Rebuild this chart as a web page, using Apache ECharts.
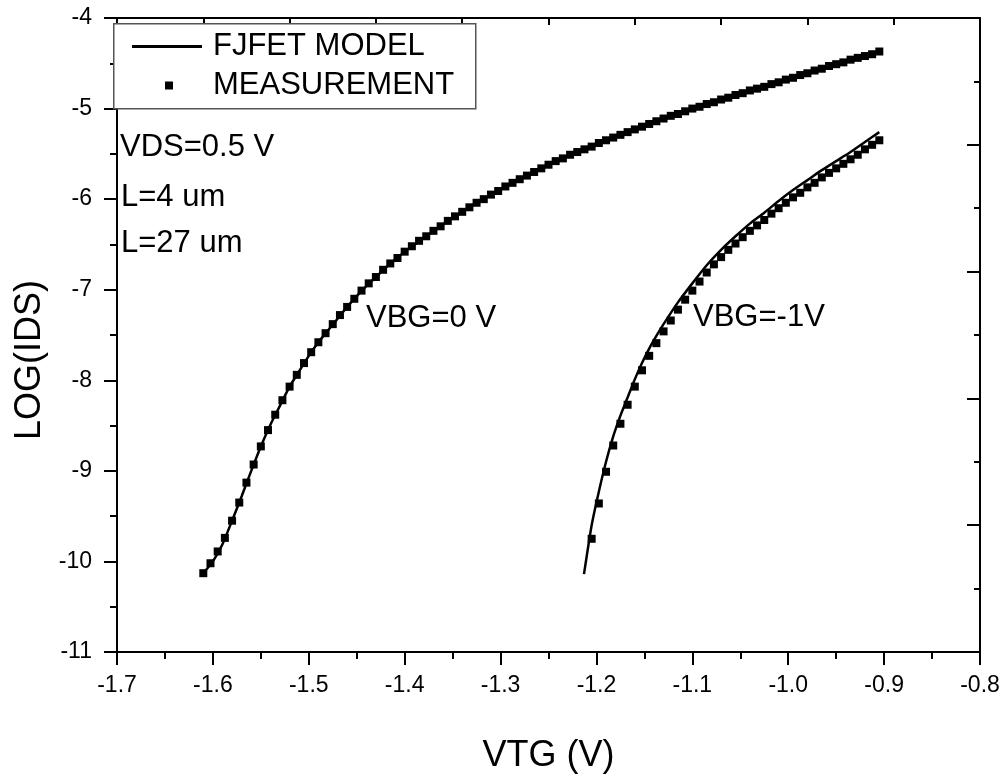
<!DOCTYPE html>
<html>
<head>
<meta charset="utf-8">
<script src="https://cdn.jsdelivr.net/npm/echarts@6/dist/echarts.min.js"></script>
<style>
html,body{margin:0;padding:0;background:#fff;}
#chart{width:1008px;height:779px;}
</style>
</head>
<body>
<div id="chart"></div>
<script>
// ---- data ----
const xTicks = [-1.7, -1.6, -1.5, -1.4, -1.3, -1.2, -1.1, -1.0, -0.9, -0.8];
const yTicks = [-11, -10, -9, -8, -7, -6, -5, -4];

// VBG = 0 V, measurement (VTG, log IDS)
const measVTG0 = [-1.6100,-1.6025,-1.5950,-1.5875,-1.5800,-1.5725,-1.5650,-1.5575,-1.5500,-1.5425,
  -1.5350,-1.5275,-1.5200,-1.5125,-1.5050,-1.4975,-1.4900,-1.4825,-1.4750,-1.4675,
  -1.4600,-1.4525,-1.4450,-1.4375,-1.4300,-1.4225,-1.4150,-1.4075,-1.4000,-1.3925,
  -1.3850,-1.3775,-1.3700,-1.3625,-1.3550,-1.3475,-1.3400,-1.3325,-1.3250,-1.3175,
  -1.3100,-1.3025,-1.2950,-1.2875,-1.2800,-1.2725,-1.2650,-1.2575,-1.2500,-1.2425,
  -1.2350,-1.2275,-1.2200,-1.2125,-1.2050,-1.1975,-1.1900,-1.1825,-1.1750,-1.1675,
  -1.1600,-1.1525,-1.1450,-1.1375,-1.1300,-1.1225,-1.1150,-1.1075,-1.1000,-1.0925,
  -1.0850,-1.0775,-1.0700,-1.0625,-1.0550,-1.0475,-1.0400,-1.0325,-1.0250,-1.0175,
  -1.0100,-1.0025,-0.9950,-0.9875,-0.9800,-0.9725,-0.9650,-0.9575,-0.9500,-0.9425,
  -0.9350,-0.9275,-0.9200,-0.9125,-0.9050];
const measLog0 = [-10.13,-10.02,-9.89,-9.74,-9.55,-9.35,-9.13,-8.93,-8.73,-8.55,
  -8.38,-8.22,-8.07,-7.94,-7.81,-7.69,-7.58,-7.48,-7.38,-7.28,
  -7.19,-7.10,-7.01,-6.93,-6.86,-6.78,-6.71,-6.65,-6.58,-6.52,
  -6.46,-6.41,-6.35,-6.30,-6.24,-6.19,-6.14,-6.09,-6.04,-6.00,
  -5.95,-5.91,-5.86,-5.82,-5.78,-5.74,-5.70,-5.66,-5.62,-5.58,
  -5.55,-5.51,-5.48,-5.45,-5.42,-5.38,-5.35,-5.32,-5.29,-5.26,
  -5.23,-5.20,-5.17,-5.14,-5.11,-5.08,-5.06,-5.03,-5.00,-4.98,
  -4.95,-4.93,-4.90,-4.88,-4.85,-4.83,-4.80,-4.78,-4.76,-4.73,
  -4.71,-4.68,-4.66,-4.63,-4.61,-4.58,-4.56,-4.53,-4.51,-4.49,
  -4.46,-4.44,-4.42,-4.40,-4.37];

// VBG = 0 V, FJFET model
const modelVTG0 = [-1.610,-1.600,-1.590,-1.580,-1.570,-1.560,-1.550,-1.540,-1.530,-1.520,
  -1.510,-1.500,-1.490,-1.480,-1.470,-1.460,-1.450,-1.440,-1.430,-1.420,
  -1.410,-1.400,-1.380,-1.360,-1.340,-1.320,-1.300,-1.280,-1.260,-1.240,
  -1.220,-1.200,-1.180,-1.160,-1.140,-1.120,-1.100,-1.080,-1.060,-1.040,
  -1.020,-1.000,-0.980,-0.960,-0.940,-0.920,-0.905];
const modelLog0 = [-10.13,-10.00,-9.81,-9.55,-9.28,-9.00,-8.73,-8.49,-8.28,-8.07,
  -7.90,-7.73,-7.58,-7.45,-7.32,-7.19,-7.07,-6.96,-6.86,-6.76,
  -6.67,-6.58,-6.43,-6.28,-6.14,-6.01,-5.89,-5.78,-5.68,-5.57,
  -5.48,-5.40,-5.31,-5.23,-5.15,-5.08,-5.00,-4.94,-4.87,-4.80,
  -4.74,-4.67,-4.61,-4.55,-4.48,-4.42,-4.37];

// VBG = -1 V, measurement
const measVTG1 = [-1.2050,-1.1975,-1.1900,-1.1825,-1.1750,-1.1675,-1.1600,-1.1525,-1.1450,-1.1375,
  -1.1300,-1.1225,-1.1150,-1.1075,-1.1000,-1.0925,-1.0850,-1.0775,-1.0700,-1.0625,
  -1.0550,-1.0475,-1.0400,-1.0325,-1.0250,-1.0175,-1.0100,-1.0025,-0.9950,-0.9875,
  -0.9800,-0.9725,-0.9650,-0.9575,-0.9500,-0.9425,-0.9350,-0.9275,-0.9200,-0.9125,
  -0.9050];
const measLog1 = [-9.75,-9.36,-9.01,-8.72,-8.48,-8.27,-8.07,-7.89,-7.73,-7.59,
  -7.46,-7.34,-7.22,-7.11,-7.01,-6.91,-6.81,-6.72,-6.64,-6.56,
  -6.49,-6.42,-6.35,-6.29,-6.23,-6.16,-6.10,-6.04,-5.98,-5.93,
  -5.87,-5.82,-5.76,-5.71,-5.66,-5.61,-5.56,-5.51,-5.45,-5.40,
  -5.35];

// VBG = -1 V, FJFET model
const modelVTG1 = [-1.213,-1.205,-1.1975,-1.190,-1.1825,-1.175,-1.1675,-1.160,-1.1525,-1.145,
  -1.1375,-1.130,-1.115,-1.100,-1.085,-1.070,-1.055,-1.040,-1.025,-1.010,
  -0.995,-0.980,-0.965,-0.950,-0.935,-0.920,-0.905];
const modelLog1 = [-10.14,-9.60,-9.23,-8.90,-8.62,-8.39,-8.19,-7.99,-7.81,-7.65,
  -7.51,-7.38,-7.14,-6.93,-6.73,-6.56,-6.41,-6.27,-6.15,-6.02,
  -5.90,-5.79,-5.68,-5.58,-5.48,-5.37,-5.26];

const legendNames = ['FJFET MODEL', 'MEASUREMENT'];
const annotations = ['VDS=0.5 V', 'L=4 um', 'L=27 um', 'VBG=0 V', 'VBG=-1V'];

// ---- chart ----
const FONT = '"Liberation Sans", Arial, sans-serif';
const pairs = (xs, ys) => xs.map((x, i) => [x, ys[i]]);

const chart = echarts.init(document.getElementById('chart'), null, {renderer: 'canvas'});
const axisLine = {show: true, lineStyle: {color: '#000', width: 2}};

chart.setOption({
  animation: false,
  backgroundColor: '#fff',
  grid: {left: 117, right: 28, top: 18, bottom: 123, containLabel: false},
  xAxis: [{
    type: 'value', position: 'bottom', min: xTicks[0], max: xTicks[xTicks.length - 1], interval: 0.1,
    name: 'VTG (V)', nameLocation: 'middle', nameGap: 86,
    nameTextStyle: {fontFamily: FONT, fontSize: 36, color: '#000'},
    axisLine: axisLine,
    axisTick: {show: true, inside: false, length: 13, lineStyle: {color: '#000', width: 2}},
    minorTick: {show: true, splitNumber: 2, length: 7, lineStyle: {color: '#000', width: 2}},
    axisLabel: {fontFamily: FONT, fontSize: 23, color: '#000', margin: 22,
      formatter: v => v.toFixed(1)},
    splitLine: {show: false}
  }, {
    type: 'value', position: 'top', min: 0, max: 10, interval: 1,
    axisLine: axisLine,
    axisTick: {show: true, inside: true, length: 7, lineStyle: {color: '#000', width: 2}},
    axisLabel: {show: false},
    splitLine: {show: false}
  }],
  yAxis: [{
    type: 'value', position: 'left', min: yTicks[0], max: yTicks[yTicks.length - 1], interval: 1,
    name: 'LOG(IDS)', nameLocation: 'middle', nameGap: 58, nameRotate: 90,
    nameTextStyle: {fontFamily: FONT, fontSize: 36, color: '#000', padding: [0, 50, 0, 0]},
    axisLine: axisLine,
    axisTick: {show: true, inside: false, length: 13, lineStyle: {color: '#000', width: 2}},
    minorTick: {show: true, splitNumber: 2, length: 7, lineStyle: {color: '#000', width: 2}},
    axisLabel: {fontFamily: FONT, fontSize: 23, color: '#000', margin: 25},
    splitLine: {show: false}
  }, {
    type: 'value', position: 'right', min: 0, max: 5, interval: 1,
    axisLine: axisLine,
    axisTick: {show: true, inside: true, length: 13, lineStyle: {color: '#000', width: 2}},
    minorTick: {show: true, splitNumber: 2, length: 6, lineStyle: {color: '#000', width: 2}},
    axisLabel: {show: false},
    splitLine: {show: false}
  }],
  legend: [{
    data: [{name: legendNames[0], icon: 'rect'}],
    left: 132, top: 31, padding: 0, itemWidth: 70, itemHeight: 3,
    selectedMode: false, z: 10,
    textStyle: {fontFamily: FONT, fontSize: 31, color: '#000', lineHeight: 31, padding: [0, 0, 0, 6]}
  }, {
    data: [{name: legendNames[1], icon: 'rect'}],
    left: 165, top: 70, padding: 0, itemWidth: 8, itemHeight: 8,
    selectedMode: false, z: 10,
    textStyle: {fontFamily: FONT, fontSize: 31, color: '#000', lineHeight: 31, padding: [0, 0, 0, 35]}
  }],
  graphic: [
    {type: 'rect', left: 113, top: 23, z: 5,
      shape: {width: 362, height: 85},
      style: {fill: '#fff', stroke: '#555', lineWidth: 1.5}},
    {type: 'text', left: 120, top: 132, z: 6,
      style: {text: annotations[0], font: '31px ' + FONT, fill: '#000'}},
    {type: 'text', left: 121, top: 182, z: 6,
      style: {text: annotations[1], font: '31px ' + FONT, fill: '#000'}},
    {type: 'text', left: 121, top: 228, z: 6,
      style: {text: annotations[2], font: '31px ' + FONT, fill: '#000'}},
    {type: 'text', left: 366, top: 303, z: 6,
      style: {text: annotations[3], font: '31px ' + FONT, fill: '#000'}},
    {type: 'text', left: 693, top: 302, z: 6,
      style: {text: annotations[4], font: '31px ' + FONT, fill: '#000'}}
  ],
  series: [{
    name: legendNames[1], type: 'scatter', xAxisIndex: 0, yAxisIndex: 0,
    symbol: 'rect', symbolSize: 8, itemStyle: {color: '#000', opacity: 1},
    data: pairs(measVTG0, measLog0), z: 2
  }, {
    name: legendNames[1], type: 'scatter', xAxisIndex: 0, yAxisIndex: 0,
    symbol: 'rect', symbolSize: 8, itemStyle: {color: '#000', opacity: 1},
    data: pairs(measVTG1, measLog1), z: 2
  }, {
    name: legendNames[0], type: 'line', xAxisIndex: 0, yAxisIndex: 0,
    showSymbol: false, symbol: 'none', smooth: 0.2,
    lineStyle: {color: '#000', width: 2.5}, itemStyle: {color: '#000'},
    data: pairs(modelVTG0, modelLog0), z: 3
  }, {
    name: legendNames[0], type: 'line', xAxisIndex: 0, yAxisIndex: 0,
    showSymbol: false, symbol: 'none', smooth: 0.2,
    lineStyle: {color: '#000', width: 2.5}, itemStyle: {color: '#000'},
    data: pairs(modelVTG1, modelLog1), z: 3
  }]
});
</script>
</body>
</html>
